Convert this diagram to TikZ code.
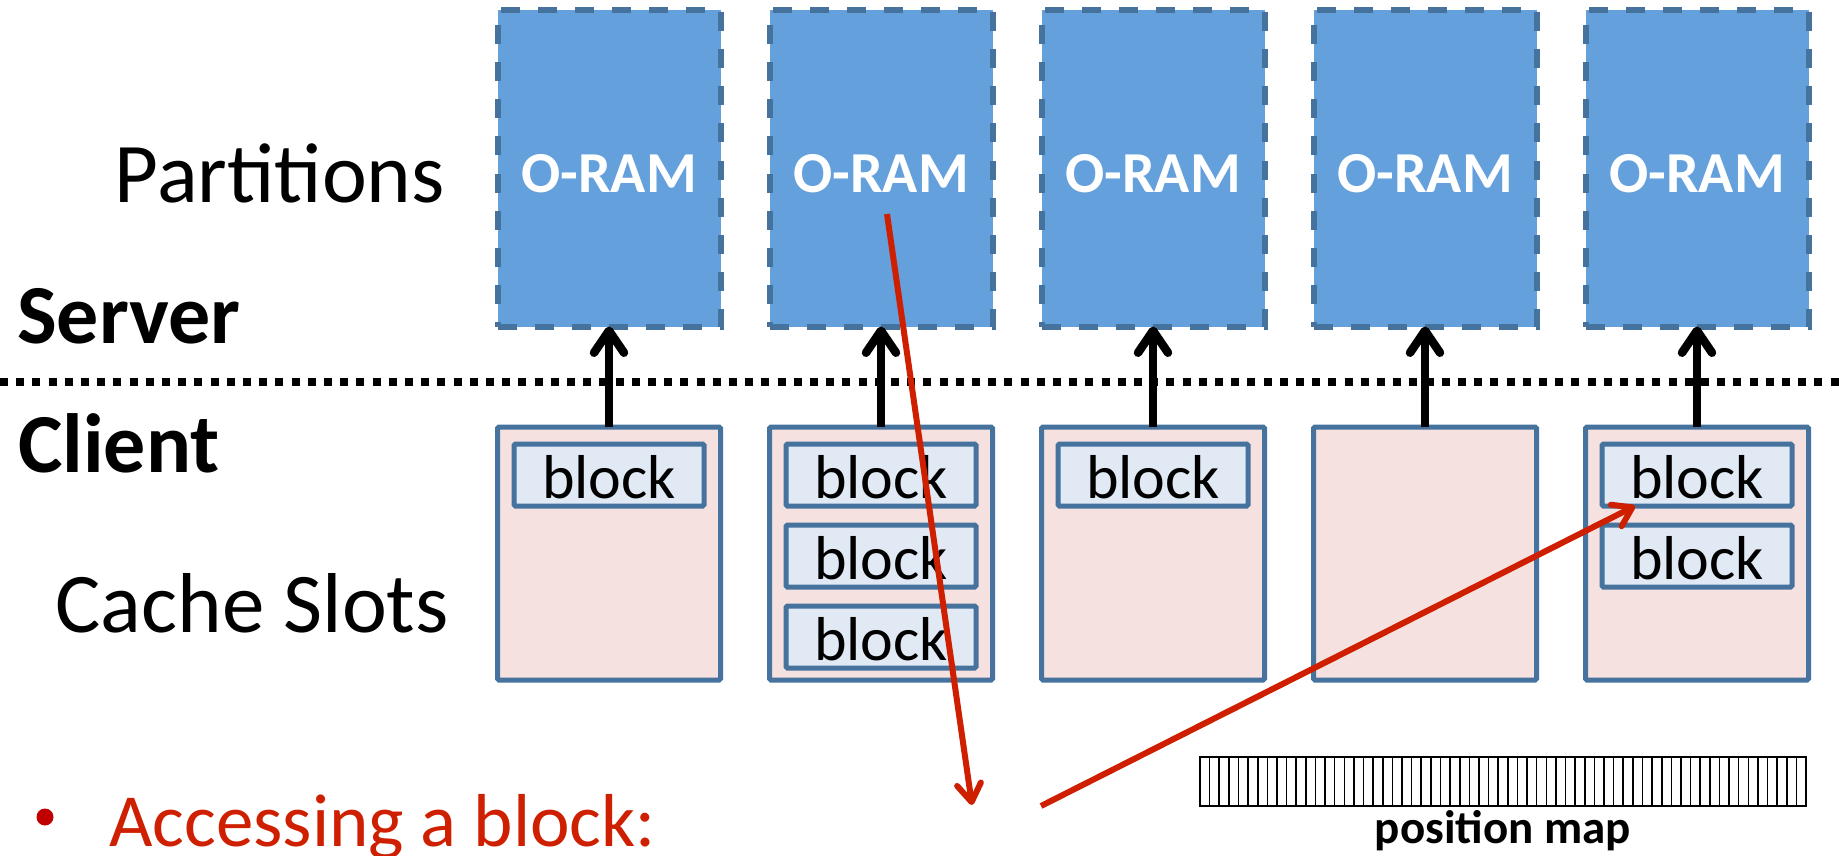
\documentclass[tikz,border=0pt]{standalone}
\usepackage{fontspec}
\setmainfont{Carlito}
\usepackage{tikz}
\usetikzlibrary{positioning, calc}
\usetikzlibrary{arrows.meta}

\definecolor{oramblue}{RGB}{99,160,220}
\definecolor{edgeblue}{RGB}{70,114,158}
\definecolor{slotpink}{RGB}{244,225,224}
\definecolor{blockblue}{RGB}{224,233,244}
\definecolor{accred}{RGB}{206,32,0}
\definecolor{bulletred}{RGB}{192,0,0}

\tikzstyle{oram} =
[
	draw=edgeblue,rectangle,fill=oramblue,line width=6pt,
	dash pattern=on 19pt off 18pt,
	minimum width=223pt, minimum height=316pt, outer sep=0pt,
	text=white, text height=49pt, font=\fontsize{58}{62}\selectfont\bfseries
]
\tikzstyle{slot} =
[
	draw=edgeblue,rectangle,fill=slotpink,line width=5pt,rounded corners=1.5pt,
	minimum width=223pt, minimum height=253pt, outer sep=0pt
]
\tikzstyle{blk} =
[
	draw=edgeblue,rectangle,fill=blockblue,line width=5pt,rounded corners=1.5pt,
	minimum width=190pt, minimum height=62pt, inner sep=0pt, outer sep=0pt,
	text height=48pt, font=\fontsize{62}{66}\selectfont
]
\tikzstyle{side} = [inner sep=0pt, font=\fontsize{85}{90}\selectfont]
\tikzstyle{sidebold} = [inner sep=0pt, font=\fontsize{84}{90}\selectfont\bfseries]
\tikzstyle{uparrow} = [-{Straight Barb[length=22pt,width=30pt,round]}, line width=8.5pt, black]
\tikzstyle{accarrow} = [-{Straight Barb[length=18pt,width=24pt,round]}, line width=6pt, accred]
\tikzstyle{sepline} = [line width=7.5pt, dash pattern=on 8pt off 8.2pt]
\tikzstyle{posmap} = [draw, rectangle, line width=2.5pt, minimum width=606pt, minimum height=49pt, outer sep=0pt]
\tikzstyle{cellline} = [line width=1.6pt]

\begin{document}
\begin{tikzpicture}[x=1pt,y=-1pt]

\useasboundingbox (0,0) rectangle (1839,856);

% server side partitions
\node[oram] (P1) at (609,168.5) {O-RAM};
\node[oram] (P2) [right=49pt of P1] {O-RAM};
\node[oram] (P3) [right=49pt of P2] {O-RAM};
\node[oram] (P4) [right=49pt of P3] {O-RAM};
\node[oram] (P5) [right=49pt of P4] {O-RAM};

% client side cache slots
\node[slot] (S1) [below=100.5pt of P1] {};
\node[slot] (S2) [below=100.5pt of P2] {};
\node[slot] (S3) [below=100.5pt of P3] {};
\node[slot] (S4) [below=100.5pt of P4] {};
\node[slot] (S5) [below=100.5pt of P5] {};

\node[blk] (B1a) [below=17pt of S1.north] {block};
\node[blk] (B2a) [below=17pt of S2.north] {block};
\node[blk] (B2b) [below=19pt of B2a] {block};
\node[blk] (B2c) [below=19pt of B2b] {block};
\node[blk] (B3a) [below=17pt of S3.north] {block};
\node[blk] (B5a) [below=17pt of S5.north] {block};
\node[blk] (B5b) [below=19pt of B5a] {block};

% labels on the left
\node[side, anchor=base east] (Lpart) at (445,202) {Partitions};
\node[sidebold, anchor=base west] (Lserv) at (17,343) {Server};
\node[sidebold, anchor=base west] (Lcli) at (18,472) {Client};
\node[side, anchor=base east] (Lcache) at (449,632) {Cache Slots};

\path
	(S1) edge[uparrow] (P1)
	(S2) edge[uparrow] (P2)
	(S3) edge[uparrow] (P3)
	(S4) edge[uparrow] (P4)
	(S5) edge[uparrow] (P5);

\coordinate (sepL) at (0,382);
\coordinate (sepR) at (1839,382);
\draw[sepline] (sepL) -- (sepR);

% position map
\node[posmap] (M) at (1503,781.5) {};
\foreach \i in {1,...,62}
	\draw[cellline] ($(M.north west)+(\i*9.619,0)$) -- ($(M.south west)+(\i*9.619,0)$);
\node[inner sep=0pt, font=\fontsize{47}{52}\selectfont\bfseries] (Mlab) [below=4pt of M] {position map};

% access path
\node[circle, fill=bulletred, minimum size=17pt, inner sep=0pt] (dot) at (45,817) {};
\node[inner sep=0pt, anchor=base west, text=accred, font=\fontsize{75}{80}\selectfont] (acc) at (109,846) {Accessing a block:};

\coordinate (pick) at (887,214);
\coordinate (drop) at (972,805);
\coordinate (back) at (1041,806);
\path
	(pick) edge[accarrow] (drop)
	(back) edge[accarrow] ([xshift=33pt]B5a.south west);

\end{tikzpicture}
\end{document}
